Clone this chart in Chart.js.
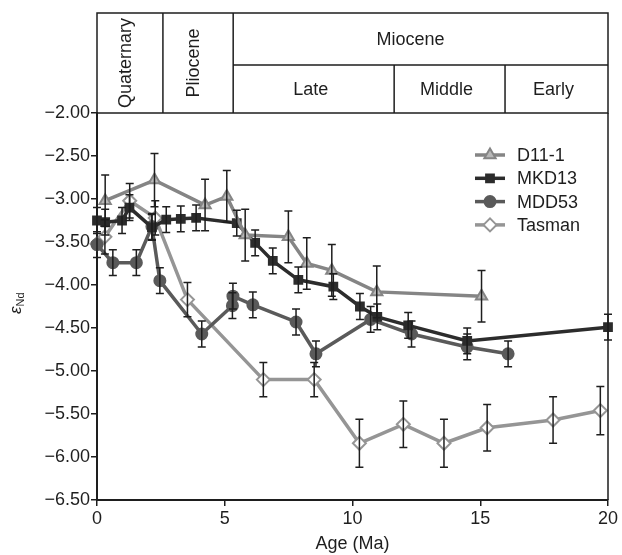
<!DOCTYPE html>
<html>
<head>
<meta charset="utf-8">
<script src="https://cdn.jsdelivr.net/npm/chart.js@4.4.1/dist/chart.umd.min.js"></script>
<style>
  html, body { margin: 0; padding: 0; background: #fff; }
  #ndChart { display: block; }
</style>
</head>
<body>
<canvas id="ndChart" width="622" height="555"></canvas>
<script>
// 値は図から読み取り
const SERIES_NAMES = ["D11-1", "MKD13", "MDD53", "Tasman"];

const d11Age = [0.32, 2.25, 4.23, 5.08, 5.8, 7.49, 8.21, 9.19, 10.95, 15.05];
const d11Nd  = [-3.02, -2.78, -3.07, -2.97, -3.42, -3.44, -3.75, -3.83, -4.08, -4.13];
const d11Err = [0.3, 0.31, 0.3, 0.3, 0.3, 0.3, 0.3, 0.3, 0.3, 0.3];

const mkdAge = [0, 0.32, 0.98, 1.27, 2.15, 2.71, 3.28, 3.88, 5.47, 6.19, 6.88, 7.88, 9.25, 10.29, 10.97, 12.18, 14.49, 20];
const mkdNd  = [-3.25, -3.27, -3.25, -3.1, -3.33, -3.24, -3.23, -3.22, -3.28, -3.51, -3.72, -3.94, -4.02, -4.25, -4.37, -4.47, -4.65, -4.49];
const mkdErr = [0.15, 0.15, 0.15, 0.15, 0.15, 0.15, 0.15, 0.15, 0.15, 0.15, 0.15, 0.15, 0.15, 0.15, 0.15, 0.15, 0.15, 0.15];

const mddAge = [0, 0.62, 1.54, 2.15, 2.46, 4.1, 5.3, 5.32, 6.1, 7.79, 8.57, 10.71, 12.31, 14.49, 16.09];
const mddNd  = [-3.53, -3.74, -3.74, -3.32, -3.95, -4.57, -4.24, -4.13, -4.23, -4.43, -4.8, -4.4, -4.57, -4.72, -4.8];
const mddErr = [0.15, 0.15, 0.15, 0.15, 0.15, 0.15, 0.15, 0.15, 0.15, 0.15, 0.15, 0.15, 0.15, 0.15, 0.15];

const tasAge = [0, 0.31, 1.28, 2.28, 3.54, 6.51, 8.5, 10.27, 11.99, 13.58, 15.27, 17.85, 19.7];
const tasNd  = [-3.52, -3.44, -3.02, -3.22, -4.17, -5.1, -5.1, -5.84, -5.62, -5.84, -5.66, -5.57, -5.46];
const tasErr = [0, 0.2, 0.2, 0.2, 0.2, 0.2, 0.2, 0.28, 0.27, 0.28, 0.27, 0.27, 0.28];

const xTicks = [0, 5, 10, 15, 20];
const yTicks = [-2, -2.5, -3, -3.5, -4, -4.5, -5, -5.5, -6, -6.5];

// 地質年代の境界 (Ma)
const epochEdges = [0, 2.58, 5.33, 11.63, 15.97, 20];
const epochNames = ["Quaternary", "Pliocene"];
const mioceneName = "Miocene";
const mioceneParts = ["Late", "Middle", "Early"];

const FONT = "'Liberation Sans', Arial, sans-serif";
const INK = "#1e1e1e";

const toPoints = (ages, vals) => ages.map((a, i) => ({ x: a, y: vals[i] }));

const seriesStyle = [
  { line: "#858585", fill: "#b8b8b8", style: "triangle", r: 6.5 },
  { line: "#2c2c2c", fill: "#2c2c2c", style: "rect", r: 5.5 },
  { line: "#5a5a5a", fill: "#5a5a5a", style: "circle", r: 5.5 },
  { line: "#959595", fill: "#ffffff", style: "rectRot", r: 6.5 },
];
const seriesData = [
  [d11Age, d11Nd, d11Err],
  [mkdAge, mkdNd, mkdErr],
  [mddAge, mddNd, mddErr],
  [tasAge, tasNd, tasErr],
];

const datasets = seriesData.map(([ages, vals, errs], i) => ({
  label: SERIES_NAMES[i],
  data: toPoints(ages, vals),
  errors: errs,
  borderColor: seriesStyle[i].line,
  backgroundColor: seriesStyle[i].fill,
  borderWidth: 3.5,
  tension: 0,
  pointStyle: seriesStyle[i].style,
  pointRadius: seriesStyle[i].r,
  pointBorderWidth: 2,
  pointBorderColor: seriesStyle[i].line,
  pointBackgroundColor: seriesStyle[i].fill,
  clip: false,
}));

/** エラーバー */
const errorBarPlugin = {
  id: "errorBars",
  afterDatasetsDraw(chart) {
    const { ctx } = chart;
    const yScale = chart.scales.y;
    ctx.save();
    ctx.strokeStyle = INK;
    ctx.lineWidth = 1.5;
    chart.data.datasets.forEach((ds, di) => {
      const meta = chart.getDatasetMeta(di);
      ds.data.forEach((p, i) => {
        const e = ds.errors[i];
        if (!e) return;
        const x = meta.data[i].x;
        const y1 = yScale.getPixelForValue(p.y + e);
        const y2 = yScale.getPixelForValue(p.y - e);
        ctx.beginPath();
        ctx.moveTo(x, y1); ctx.lineTo(x, y2);
        ctx.moveTo(x - 4, y1); ctx.lineTo(x + 4, y1);
        ctx.moveTo(x - 4, y2); ctx.lineTo(x + 4, y2);
        ctx.stroke();
      });
    });
    ctx.restore();
  },
};

/** 上部の年代表・凡例・縦軸タイトル */
const decorPlugin = {
  id: "decor",
  afterDraw(chart) {
    const { ctx, chartArea } = chart;
    const xs = chart.scales.x;
    const top = 13;
    const bottom = chartArea.top;
    const mid = 65;
    const px = epochEdges.map((v) => xs.getPixelForValue(v));

    ctx.save();
    ctx.strokeStyle = INK;
    ctx.lineWidth = 1.5;
    ctx.strokeRect(px[0], top, px[5] - px[0], bottom - top);
    ctx.beginPath();
    [1, 2, 3, 4].forEach((k) => {
      const y0 = k >= 3 ? mid : top;
      ctx.moveTo(px[k], y0);
      ctx.lineTo(px[k], bottom);
    });
    ctx.moveTo(px[2], mid);
    ctx.lineTo(px[5], mid);
    // 右側の枠線
    ctx.moveTo(chartArea.right, bottom);
    ctx.lineTo(chartArea.right, chartArea.bottom);
    ctx.stroke();

    ctx.fillStyle = INK;
    ctx.font = `18px ${FONT}`;
    ctx.textAlign = "center";
    ctx.textBaseline = "middle";
    epochNames.forEach((name, k) => {
      ctx.save();
      ctx.translate((px[k] + px[k + 1]) / 2 - 4, (top + bottom) / 2);
      ctx.rotate(-Math.PI / 2);
      ctx.fillText(name, 0, 0);
      ctx.restore();
    });
    ctx.fillText(mioceneName, (px[2] + px[5]) / 2 - 10, (top + mid) / 2 + 1);
    mioceneParts.forEach((name, k) => {
      ctx.fillText(name, (px[k + 2] + px[k + 3]) / 2 - 3, (mid + bottom) / 2 + 1);
    });

    // 凡例
    const lx = 475, tx = 517;
    chart.data.datasets.forEach((ds, i) => {
      const y = 155 + i * 23.3;
      ctx.strokeStyle = ds.borderColor;
      ctx.lineWidth = 3.5;
      ctx.beginPath();
      ctx.moveTo(lx, y);
      ctx.lineTo(lx + 30, y);
      ctx.stroke();
      ctx.fillStyle = ds.pointBackgroundColor;
      ctx.strokeStyle = ds.pointBorderColor;
      ctx.lineWidth = 2;
      Chart.helpers.drawPoint(ctx, {
        pointStyle: ds.pointStyle, radius: ds.pointRadius, rotation: 0, borderWidth: 2,
      }, lx + 15, y);
      ctx.fillStyle = INK;
      ctx.textAlign = "left";
      ctx.fillText(ds.label, tx, y + 1);
    });

    // 縦軸タイトル εNd
    ctx.save();
    ctx.translate(17, 308);
    ctx.rotate(-Math.PI / 2);
    ctx.fillStyle = INK;
    ctx.textAlign = "left";
    ctx.textBaseline = "middle";
    ctx.font = `italic 17px ${FONT}`;
    ctx.fillText("\u03b5", -6, -1);
    const w = ctx.measureText("\u03b5").width;
    ctx.font = `11px ${FONT}`;
    ctx.fillText("Nd", -6 + w, 4);
    ctx.restore();
    ctx.restore();
  },
};

const ndChart = new Chart(document.getElementById("ndChart"), {
  type: "line",
  data: { datasets },
  options: {
    responsive: false,
    animation: false,
    devicePixelRatio: 1,
    layout: { padding: { top: 113, right: 14, left: 0, bottom: 0 } },
    scales: {
      x: {
        type: "linear",
        min: 0,
        max: 20,
        afterBuildTicks: (s) => { s.ticks = xTicks.map((v) => ({ value: v })); },
        afterFit: (s) => { s.height = 55; },
        ticks: { color: INK, font: { family: FONT, size: 18 }, padding: 2 },
        grid: { drawOnChartArea: false, drawTicks: true, tickLength: 6, color: INK, lineWidth: 1.5 },
        border: { display: true, color: INK, width: 2 },
        title: { display: true, text: "Age (Ma)", color: INK, font: { family: FONT, size: 18 }, padding: { top: 0, bottom: 0 } },
      },
      y: {
        type: "linear",
        min: -6.5,
        max: -2,
        afterBuildTicks: (s) => { s.ticks = yTicks.map((v) => ({ value: v })); },
        afterFit: (s) => { s.width = 97; },
        ticks: {
          color: INK,
          font: { family: FONT, size: 18 },
          padding: 1,
          callback: (v) => (v < 0 ? "\u2212" : "") + Math.abs(v).toFixed(2),
        },
        grid: { drawOnChartArea: false, drawTicks: true, tickLength: 6, color: INK, lineWidth: 1.5 },
        border: { display: true, color: INK, width: 2 },
      },
    },
    plugins: {
      legend: { display: false },
      tooltip: { enabled: false },
    },
  },
  plugins: [errorBarPlugin, decorPlugin],
});
</script>
</body>
</html>
